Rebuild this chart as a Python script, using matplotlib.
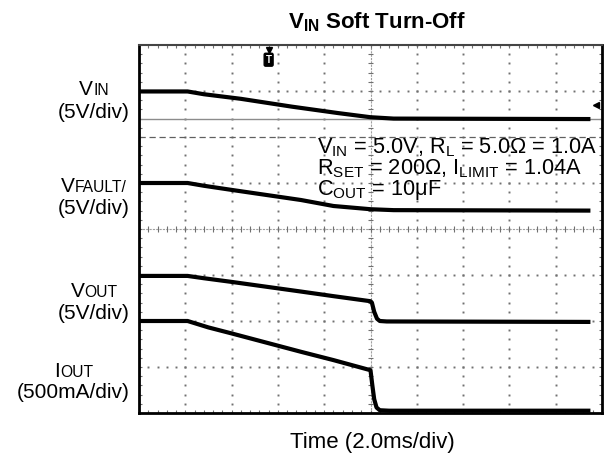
import numpy as np
import matplotlib
matplotlib.use('Agg')
import matplotlib.pyplot as plt

plt.rcParams['font.family'] = 'Liberation Sans'
plt.rcParams['mathtext.fontset'] = 'custom'
plt.rcParams['mathtext.rm'] = 'Liberation Sans'
plt.rcParams['mathtext.it'] = 'Liberation Sans:italic'
plt.rcParams['mathtext.bf'] = 'Liberation Sans:bold'

W, H = 605, 458

# scope traces, in screen divisions (time 0..10 div, level 0..8 div)
vin_t = [0, 1.05, 1.4, 2.2, 3.3, 4.3, 5.0, 5.5, 9.75]
vin_v = [6.99, 6.99, 6.93, 6.83, 6.66, 6.52, 6.43, 6.40, 6.39]

vfault_t = [0, 1.05, 1.4, 2.0, 3.5, 4.2, 5.0, 5.5, 9.75]
vfault_v = [5.00, 5.00, 4.94, 4.85, 4.63, 4.50, 4.43, 4.41, 4.40]

vout_t = [0, 1.05, 1.4, 2.0, 3.5, 4.2, 5.0, 5.03, 5.08, 5.14, 5.2, 5.35, 9.75]
vout_v = [2.98, 2.98, 2.93, 2.85, 2.64, 2.54, 2.43, 2.40, 2.20, 2.05, 2.00, 1.99, 1.98]

iout_t = [0, 1.05, 1.5, 2.0, 3.5, 4.2, 5.0, 5.04, 5.08, 5.13, 5.2, 5.4, 9.75]
iout_v = [2.00, 2.00, 1.86, 1.73, 1.33, 1.15, 0.93, 0.60, 0.30, 0.12, 0.06, 0.05, 0.05]

vin_ref = 6.39        # channel 1 ground marker
trig_level = 6.7      # trigger level arrow
trig_time = 2.8       # trigger position
trig_dash = 6.0

labels = [('V', 'IN', '(5V/div)', 95, 118),
          ('V', 'FAULT/', '(5V/div)', 192, 214),
          ('V', 'OUT', '(5V/div)', 297, 319),
          ('I', 'OUT', '(500mA/div)', 377, 398)]


def fx(x):
    return x / W


def fy(y):
    return 1 - y / H


fig = plt.figure(figsize=(W / 100, H / 100), dpi=100)
ax = fig.add_axes([fx(139), fy(413), 463 / W, 368 / H])
ax.set_xlim(0, 10)
ax.set_ylim(0, 8)
ax.set_xticks([])
ax.set_yticks([])
for s in ['left', 'bottom', 'right']:
    ax.spines[s].set_color('black')
    ax.spines[s].set_linewidth(2)
ax.spines['top'].set_color('#444444')
ax.spines['top'].set_linewidth(1.5)

xs = np.arange(0, 10.01, 0.2)
ys = np.arange(0, 8.01, 0.2)
gc = '#707070'

# dotted graticule
for gx in [1, 2, 3, 4, 6, 7, 8, 9]:
    ax.plot(np.full(len(ys), gx), ys, ls='none', marker='s', ms=1.4, color=gc, mew=0)
for gy in [1, 2, 3, 5, 7]:
    ax.plot(xs, np.full(len(xs), gy), ls='none', marker='s', ms=1.4, color=gc, mew=0)

# centre cross with minor ticks
ax.axhline(4, color='#a0a0a0', lw=0.8, ls=(0, (2, 1)))
ax.axvline(5, color='#a0a0a0', lw=0.8, ls=(0, (2, 1)))
ax.vlines(xs, 3.93, 4.07, color='#707070', lw=0.8)
ax.hlines(ys, 4.94, 5.06, color='#707070', lw=0.8)

# edge ticks
ax.vlines(xs, 0, 0.07, color='#707070', lw=0.8)
ax.vlines(xs, 7.93, 8, color='#707070', lw=0.8)
ax.hlines(ys, 0, 0.06, color='#707070', lw=0.8)
ax.hlines(ys, 9.94, 10, color='#707070', lw=0.8)

ax.axhline(trig_dash, color='#606060', lw=0.9, ls=(0, (5, 3)))
ax.axhline(vin_ref, color='#8c8c8c', lw=1.0)

for t, v in [(vin_t, vin_v), (vfault_t, vfault_v), (vout_t, vout_v), (iout_t, iout_v)]:
    ax.plot(t, v, color='black', lw=3.0, solid_joinstyle='round', solid_capstyle='butt')

# trigger markers
ax.text(trig_time, 7.68, 'T', ha='center', va='center', color='white', fontsize=7,
        fontweight='bold', bbox=dict(boxstyle='round,pad=0.15', fc='black', ec='black'))
ax.plot(trig_time, 7.9, marker='v', ms=4, color='black')
ax.plot(9.88, trig_level, marker='<', ms=4, color='black', clip_on=False)

# titles and notes
fig.text(fx(377), fy(28), r'$\mathbf{V_{IN}}$ Soft Turn-Off', ha='center', va='baseline',
         fontsize=16, fontweight='bold')
fig.text(fx(372), fy(448), 'Time (2.0ms/div)', ha='center', va='baseline', fontsize=16)

note = [r'V$_{\mathregular{IN}}$ = 5.0V, R$_{\mathregular{L}}$ = 5.0Ω = 1.0A',
        r'R$_{\mathregular{SET}}$ = 200Ω, I$_{\mathregular{LIMIT}}$ = 1.04A',
        r'C$_{\mathregular{OUT}}$ = 10μF']
for line, yb in zip(note, [153, 174, 195]):
    fig.text(fx(317), fy(yb), line, ha='left', va='baseline', fontsize=15.7)

# channel labels: big letter + smaller caps on one baseline, scale below
renderer = fig.canvas.get_renderer()
size = 15
for big, small, scale, y1, y2 in labels:
    t2 = fig.text(fx(130), fy(y2), scale, ha='right', va='baseline', fontsize=size)
    w2 = t2.get_window_extent(renderer).width
    cx = 130 - w2 / 2
    tb = fig.text(0, 0, big, va='baseline', fontsize=size)
    ts = fig.text(0, 0, small, va='baseline', fontsize=size * 0.75)
    wb = tb.get_window_extent(renderer).width
    ws = ts.get_window_extent(renderer).width
    x0 = cx - (wb + ws) / 2
    tb.set_position((fx(x0), fy(y1)))
    ts.set_position((fx(x0 + wb), fy(y1)))

fig.savefig('out.png', dpi=100)
